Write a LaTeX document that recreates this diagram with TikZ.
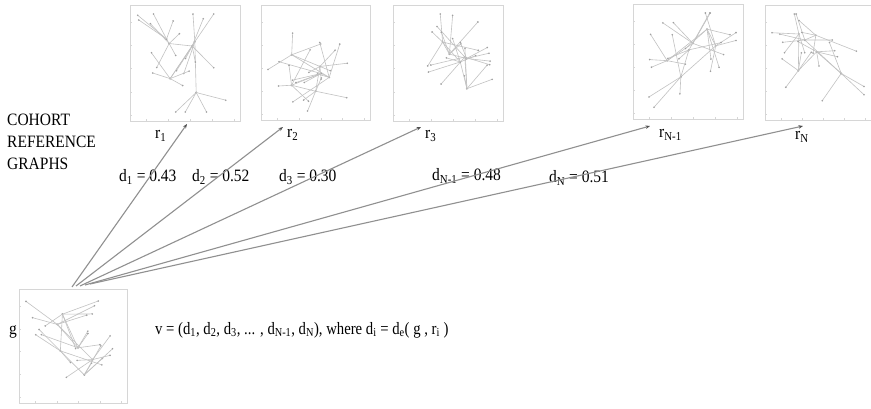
\documentclass[tikz,border=0pt]{standalone}
\usepackage{fontspec}
\setmainfont{Liberation Serif}
\usetikzlibrary{arrows.meta}
\definecolor{boxgray}{HTML}{D6D6D6}
\definecolor{edgegray}{HTML}{C2C2C2}
\definecolor{dotgray}{HTML}{A0A0A0}
\definecolor{linkgray}{HTML}{909090}
\definecolor{tipgray}{HTML}{505050}
\newcommand{\vs}[1]{\scalebox{1}[1.12]{#1}}
\newcommand{\drawgraph}[5]{% x0, y0, seed, width, height
  \begin{scope}[shift={(#1,#2)}]
    \pgfmathsetseed{#3}
    \foreach \k in {1,...,6}{
      \pgfmathsetmacro\hx{30+(#4-55)*rnd}
      \pgfmathsetmacro\hy{25+(#5-50)*rnd}
      \ifnum\k>1 \draw[gedge] (\prevx,\prevy) -- (\hx,\hy); \fi
      \xdef\prevx{\hx}\xdef\prevy{\hy}
      \fill[dotgray] (\hx,\hy) circle (1.1);
      \foreach \j in {1,...,4}{
        \pgfmathsetmacro\ang{360*rnd}
        \pgfmathsetmacro\len{12+32*rnd}
        \pgfmathsetmacro\ex{max(7,min(#4-7,\hx+\len*cos(\ang)))}
        \pgfmathsetmacro\ey{max(9,min(#5-9,\hy+\len*sin(\ang)))}
        \draw[gedge] (\hx,\hy) -- (\ex,\ey);
        \fill[dotgray] (\ex,\ey) circle (0.9);
      }
    }
    \foreach \t in {0.15,0.35,0.55,0.75,0.95}{
      \draw[boxgray, line width=0.6pt] (0,{\t*#5}) -- (2,{\t*#5});
      \draw[boxgray, line width=0.6pt] ({\t*#4},#5) -- ({\t*#4},{#5-2});
    }
  \end{scope}}
\tikzset{
  lbl/.style={anchor=base west, inner sep=0pt, font=\fontsize{15.5}{18}\selectfont},
  gbox/.style={draw=boxgray, line width=1.3pt, rectangle, inner sep=0pt, anchor=north west},
  link/.style={draw=linkgray, line width=1.1pt, -{Stealth[length=4.5pt,width=3.5pt,color=tipgray]}},
  gedge/.style={draw=edgegray, line width=0.6pt},
}
\begin{document}
\begin{tikzpicture}[x=1pt, y=-1pt]
  \fill[white] (0,0) rectangle (871,409);
  \useasboundingbox (0,0) rectangle (871,409);

  % graph boxes
  \node[gbox, minimum width=110pt, minimum height=116pt] (b1) at (130,5) {};
  \node[gbox, minimum width=109pt, minimum height=115pt] (b2) at (261,5) {};
  \node[gbox, minimum width=110pt, minimum height=116pt] (b3) at (393,5) {};
  \node[gbox, minimum width=110pt, minimum height=115pt] (bn1) at (633,4) {};
  \node[gbox, minimum width=120pt, minimum height=115pt] (bn) at (765,5) {};
  \node[gbox, minimum width=108pt, minimum height=114pt] (bg) at (19,289) {};
  \drawgraph{130}{5}{11}{110}{116}
  \drawgraph{261}{5}{23}{109}{115}
  \drawgraph{393}{5}{37}{110}{116}
  \drawgraph{633}{4}{41}{110}{115}
  \drawgraph{765}{5}{59}{106}{115}
  \drawgraph{19}{289}{73}{108}{114}

  % labels
  \node[lbl] (cohort) at (7,126) {\vs{COHORT}};
  \node[lbl] (reference) at (7,148) {\vs{REFERENCE}};
  \node[lbl] (graphs) at (7,170) {\vs{GRAPHS}};

  \node[lbl] (lr1) at (155,139) {\vs{r\textsubscript{1}}};
  \node[lbl] (lr2) at (287,138) {\vs{r\textsubscript{2}}};
  \node[lbl] (lr3) at (425,139) {\vs{r\textsubscript{3}}};
  \node[lbl] (lrn1) at (659,138) {\vs{r\textsubscript{N-1}}};
  \node[lbl] (lrn) at (795,140) {\vs{r\textsubscript{N}}};

  \node[lbl] (ld1) at (119,182) {\vs{d\textsubscript{1} = 0.43}};
  \node[lbl] (ld2) at (192,182) {\vs{d\textsubscript{2} = 0.52}};
  \node[lbl] (ld3) at (279,182) {\vs{d\textsubscript{3} = 0.30}};
  \node[lbl] (ldn1) at (432,181) {\vs{d\textsubscript{N-1} = 0.48}};
  \node[lbl] (ldn) at (549,183) {\vs{d\textsubscript{N} = 0.51}};

  \node[lbl] (lg) at (9,334) {\vs{g}};
  \node[lbl] (vec) at (155,334) {\scalebox{0.95}[1.12]{v = (d\textsubscript{1}, d\textsubscript{2}, d\textsubscript{3}, ... , d\textsubscript{N-1}, d\textsubscript{N}), where d\textsubscript{i} = d\textsubscript{e}( g , r\textsubscript{i} )}};

  % connectors
  \coordinate (s1) at (72,287);
  \coordinate (s2) at (76,286);
  \coordinate (s3) at (80,286);
  \coordinate (sn1) at (85,285);
  \coordinate (sn) at (90,284);
  \coordinate (t1) at (187,124);
  \coordinate (t2) at (283,127);
  \coordinate (t3) at (421,127);
  \coordinate (tn1) at (650,126);
  \coordinate (tn) at (803,126);
  \draw[link] (s1) -- (t1);
  \draw[link] (s2) -- (t2);
  \draw[link] (s3) -- (t3);
  \draw[link] (sn1) -- (tn1);
  \draw[link] (sn) -- (tn);
\end{tikzpicture}
\end{document}
